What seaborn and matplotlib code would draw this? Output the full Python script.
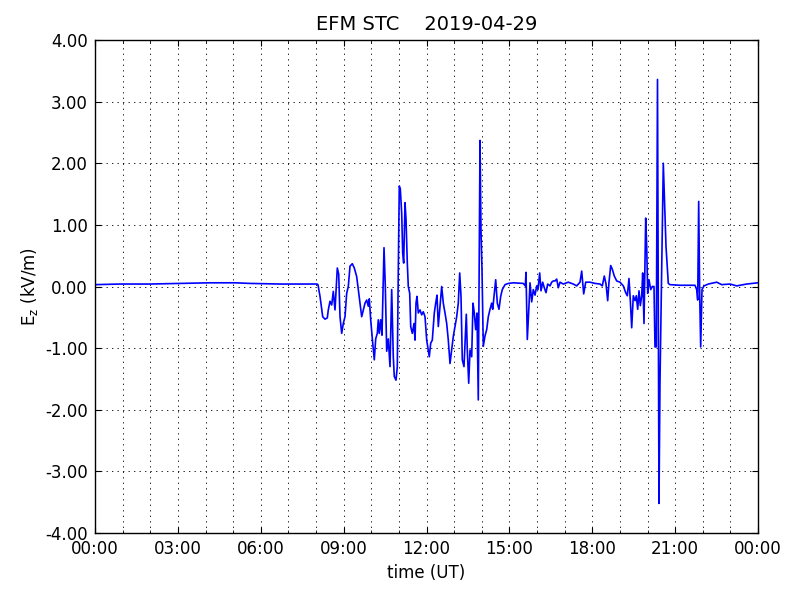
import matplotlib
matplotlib.use("Agg")
import matplotlib.pyplot as plt
from matplotlib.ticker import MultipleLocator, FuncFormatter, FormatStrFormatter
import seaborn as sns
import pandas as pd

# time in hours (UT) since 00:00 and vertical electric field E_z (kV/m)
hours = [
    0.0, 0.905, 1.991, 3.077, 4.163, 5.068, 5.611, 6.697, 7.421, 7.783, 8.036,
    8.072, 8.145, 8.243, 8.326, 8.409, 8.445, 8.507, 8.568, 8.626, 8.688, 8.771,
    8.822, 8.869, 8.930, 8.988, 9.050, 9.111, 9.169, 9.231, 9.314, 9.387, 9.473,
    9.531, 9.593, 9.654, 9.712, 9.774, 9.835, 9.893, 9.930, 9.980, 10.053, 10.110,
    10.161, 10.219, 10.255, 10.291, 10.342, 10.389, 10.462, 10.509, 10.559, 10.617,
    10.679, 10.740, 10.798, 10.834, 10.896, 10.943, 10.979, 11.015, 11.052, 11.102,
    11.138, 11.174, 11.222, 11.258, 11.305, 11.341, 11.392, 11.428, 11.486, 11.548,
    11.584, 11.620, 11.656, 11.703, 11.765, 11.826, 11.884, 11.946, 12.007, 12.065,
    12.101, 12.152, 12.210, 12.282, 12.333, 12.380, 12.427, 12.500, 12.550, 12.608,
    12.670, 12.731, 12.789, 12.851, 12.912, 12.970, 13.032, 13.093, 13.151, 13.202,
    13.249, 13.296, 13.357, 13.394, 13.441, 13.477, 13.528, 13.575, 13.636, 13.683,
    13.730, 13.781, 13.828, 13.875, 13.937, 13.973, 14.009, 14.056, 14.118, 14.179,
    14.237, 14.299, 14.360, 14.396, 14.443, 14.505, 14.563, 14.624, 14.686, 14.744,
    14.842, 14.961, 15.142, 15.504, 15.577, 15.602, 15.649, 15.710, 15.747, 15.808,
    15.866, 15.928, 15.989, 16.036, 16.097, 16.145, 16.206, 16.264, 16.326, 16.387,
    16.471, 16.532, 16.590, 16.652, 16.713, 16.771, 16.833, 16.952, 17.133, 17.314,
    17.437, 17.557, 17.618, 17.690, 17.763, 17.919, 18.100, 18.281, 18.364, 18.436,
    18.498, 18.559, 18.606, 18.668, 18.726, 18.798, 18.885, 19.005, 19.124, 19.211,
    19.269, 19.330, 19.378, 19.428, 19.486, 19.548, 19.595, 19.645, 19.692, 19.740,
    19.790, 19.826, 19.873, 19.935, 19.971, 20.007, 20.054, 20.116, 20.174, 20.235,
    20.271, 20.318, 20.362, 20.416, 20.452, 20.525, 20.572, 20.608, 20.670, 20.753,
    20.814, 21.176, 21.538, 21.719, 21.781, 21.817, 21.853, 21.889, 21.925, 21.973,
    22.045, 22.202, 22.505, 22.686, 22.986, 23.229, 23.591, 24.0,
]
ez = [
    0.03, 0.04, 0.04, 0.05, 0.06, 0.06, 0.05, 0.04, 0.04, 0.04, 0.04,
    0.03, -0.16, -0.49, -0.53, -0.51, -0.38, -0.24, -0.30, -0.08, -0.38, 0.30,
    0.20, -0.49, -0.76, -0.60, -0.49, -0.11, 0.00, 0.33, 0.37, 0.30, 0.16,
    -0.05, -0.27, -0.49, -0.38, -0.27, -0.22, -0.32, -0.20, -0.54, -0.92, -1.19,
    -0.85, -0.76, -0.54, -0.76, -0.54, -0.79, 0.63, 0.00, -1.05, -0.85,
    -1.30, -0.05, -1.14, -1.46, -1.52, -1.30, 0.27, 1.63, 1.58, 1.19,
    0.54, 0.38, 1.36, 1.10, 0.38, 0.00, -0.11, -0.65, -0.76, -0.60,
    -0.87, -0.27, -0.16, -0.43, -0.38, -0.46, -0.41, -0.49, -0.87, -1.03,
    -1.14, -0.92, -0.87, -0.43, -0.27, -0.14, -0.65, -0.27, 0.00, -0.27,
    -0.43, -0.60, -0.87, -1.25, -1.03, -0.81, -0.65, -0.49, -0.27, 0.22,
    -0.16, -1.19, -1.30, -0.92, -0.45, -1.03, -1.57, -1.03, -1.14, -0.27,
    -0.43, -0.70, -0.43, -1.84, 2.37, 0.90, 0.27, -0.97, -0.80, -0.70,
    -0.49, -0.37, -0.27, -0.37, -0.16, 0.11, -0.27, -0.37, -0.16, -0.05,
    0.03, 0.05, 0.06, 0.05, 0.01, 0.23, -0.86, -0.31, 0.06, -0.25,
    -0.05, -0.14, 0.01, -0.05, 0.22, -0.07, 0.07, -0.02, -0.10, 0.04,
    0.01, 0.07, 0.09, 0.09, 0.12, -0.02, 0.07, 0.04, 0.07, 0.04,
    0.01, 0.07, 0.25, -0.12, 0.07, 0.07, 0.05, 0.04, 0.01, 0.17,
    0.04, -0.23, 0.07, 0.34, 0.28, 0.17, 0.09, 0.07, 0.01, -0.10,
    -0.15, 0.13, -0.23, -0.67, -0.15, -0.23, -0.15, -0.37, -0.07, -0.31,
    -0.15, 0.22, -0.60, 1.11, 0.65, -0.11, 0.11, -0.05, 0.00, 0.00,
    -0.98, -0.98, 3.36, -3.52, -1.55, 0.65, 2.00, 1.52, 0.65, 0.05,
    0.03, 0.02, 0.02, 0.02, -0.05, -0.22, 1.38, -0.11, -0.98, -0.05,
    0.01, 0.04, 0.07, 0.03, 0.04, 0.01, 0.04, 0.06,
]

title = "EFM STC    2019-04-29"
xlabel = "time (UT)"
ylabel = r"E$_\mathrm{z}$ (kV/m)"

df = pd.DataFrame({"hours": hours, "ez": ez})

plt.rcParams.update({
    "font.family": ["DejaVu Sans"],
    "xtick.direction": "in",
    "ytick.direction": "in",
    "xtick.top": True,
    "ytick.right": True,
    "xtick.major.size": 4,
    "ytick.major.size": 4,
    "xtick.minor.size": 2,
    "ytick.minor.size": 2,
})

fig = plt.figure(figsize=(8, 6), dpi=100)
ax = fig.add_axes([95 / 800, 1 - 533 / 600, (758 - 95) / 800, (533 - 40) / 600])
sns.lineplot(data=df, x="hours", y="ez", ax=ax, color="blue", linewidth=1.2,
             sort=False, estimator=None)

ax.set_xlim(0, 24)
ax.set_ylim(-4, 4)
ax.xaxis.set_major_locator(MultipleLocator(3))
ax.xaxis.set_minor_locator(MultipleLocator(1))
ax.xaxis.set_major_formatter(FuncFormatter(lambda v, p: "%02d:00" % (int(round(v)) % 24)))
ax.yaxis.set_major_locator(MultipleLocator(1))
ax.yaxis.set_major_formatter(FormatStrFormatter("%.2f"))
ax.tick_params(axis="both", which="major", labelsize=12, pad=5)
grid_style = dict(color="black", linestyle=(0, (1.6, 5.0)), linewidth=0.6)
ax.grid(True, which="major", axis="both", **grid_style)
ax.grid(True, which="minor", axis="x", **grid_style)
for s in ax.spines.values():
    s.set_linewidth(1.0)
    s.set_color("black")

ax.set_title(title, fontsize=14, pad=7)
ax.set_xlabel(xlabel, fontsize=12)
ax.set_ylabel(ylabel, fontsize=12)

fig.savefig("out.png", dpi=100, facecolor="white")
